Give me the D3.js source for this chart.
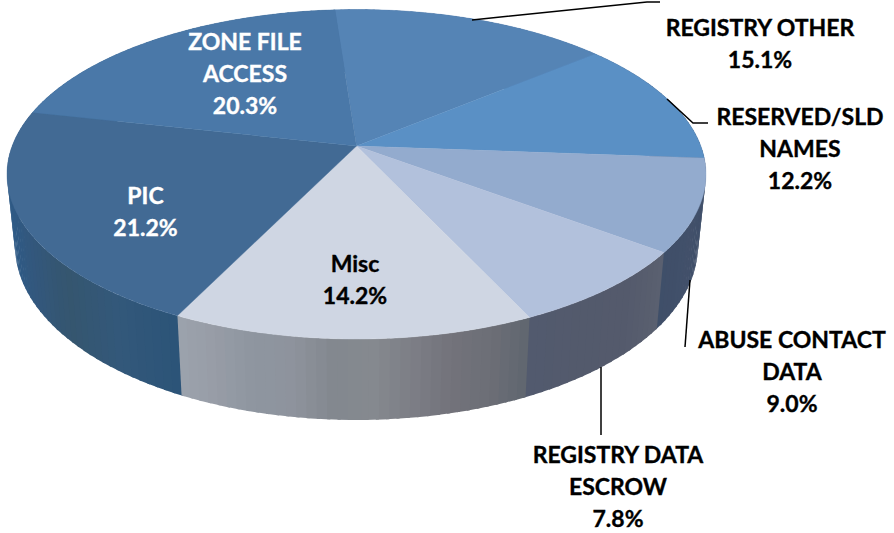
<!DOCTYPE html>
<html>
<head>
<meta charset="utf-8">
<script src="https://cdn.jsdelivr.net/npm/d3@7"></script>
<style>
	html, body { margin: 0; padding: 0; background: #fff; }
	svg { display: block; }
	text { font-family: Lato, sans-serif; font-weight: 700; text-anchor: middle; stroke-width: 0.35; }
</style>
</head>
<body>
<div id="chart"></div>
<script>
// data, clockwise from the top of the pie
categories = ['REGISTRY OTHER', 'RESERVED/SLD NAMES', 'ABUSE CONTACT DATA', 'REGISTRY DATA ESCROW', 'Misc', 'PIC', 'ZONE FILE ACCESS'];
shares = [15.1, 12.2, 9.0, 7.8, 14.2, 21.2, 20.3];

// chart settings
chart_width = 894;
chart_height = 533;
start_angle = -4.2 * Math.PI / 180;
font_size = 23;
line_height = 32;

// colors
top_colors = ['#5584b5', '#5a90c5', '#93abce', '#b2c1dc', '#cfd6e3', '#426a94', '#4a78a8'];
wall_colors = [
	['#4a6f9a', '#4a6f9a'],
	['#44536c', '#44536c'],
	['#44536c', '#3f4f69', '#42506a', '#3f4f69'],
	['#5b6170', '#545a6c', '#535a6c', '#525a6e'],
	['#5f666f', '#6c6e76', '#72727a', '#7c7e85', '#85898f', '#83888f', '#8e939d', '#8e96a0', '#979ca6', '#9ca3ad'],
	['#2c5478', '#33587a', '#35566f', '#33577c', '#2f5a85', '#2f5a85', '#3c5f84', '#3d6185'],
	['#3d6185', '#3d6185']
];

// label lines and where they sit
label_lines = [
	['REGISTRY OTHER', '15.1%'],
	['RESERVED/SLD', 'NAMES', '12.2%'],
	['ABUSE CONTACT', 'DATA', '9.0%'],
	['REGISTRY DATA', 'ESCROW', '7.8%'],
	['Misc', '14.2%'],
	['PIC', '21.2%'],
	['ZONE FILE', 'ACCESS', '20.3%']
];
label_x = [760, 800, 792, 618, 355, 145.5, 245];
label_y = [36, 125, 348, 463, 272, 204, 50];
label_fill = ['#000', '#000', '#000', '#000', '#000', '#fff', '#fff'];
leaders = [
	[[472, 20], [647, 2], [660, 2]],
	[[667, 99], [693, 123], [708, 123]],
	[[690, 280], [685, 347]],
	[[601, 367], [601, 435]]
];

// perspective of the pie disc
apex_x = 356.5;
apex_y = 146;
disc_a = 344.3;
disc_b = 159.9;
disc_k = 0.1715;

function project_top(angle) {
	var u = Math.sin(angle), v = Math.cos(angle), w = 1 + disc_k * v;
	return [apex_x + disc_a * u / w, apex_y - disc_b * v / w];
}

function project_bottom(angle) {
	var p = project_top(angle);
	return [apex_x + 0.977 * (p[0] - apex_x), apex_y - (1.057 * (apex_y - p[1]) - 70)];
}

// layout
var pie = d3.pie()
	.sort(null)
	.startAngle(start_angle)
	.endAngle(start_angle + 2 * Math.PI);

var arcs = pie(shares);
var line = d3.line();
var step = 0.5 * Math.PI / 180;
var strip_step = 1.5 * Math.PI / 180;

// draw elements
var svg = d3.select('#chart')
	.append('svg')
	.attr('width', chart_width)
	.attr('height', chart_height);

// side wall, cut in strips so the color bands show
// strips are painted back to front, each one runs a bit under the next, so no seams
var strips = [];
arcs.forEach((d, i) => {
	var color_scale = d3.scaleLinear()
		.domain(d3.range(wall_colors[i].length).map((j) => j / Math.max(1, wall_colors[i].length - 1)))
		.range(wall_colors[i]);
	var n = Math.ceil((d.endAngle - d.startAngle) / strip_step);
	for (var s = 0; s < n; s++) {
		var a0 = d.startAngle + (d.endAngle - d.startAngle) * s / n;
		var a1 = d.startAngle + (d.endAngle - d.startAngle) * (s + 1) / n;
		strips.push({ a0: a0, a1: a1, color: color_scale((s + 0.5) / n) });
	}
});
strips.sort((a, b) => Math.cos((b.a0 + b.a1) / 2) - Math.cos((a.a0 + a.a1) / 2));

svg.append('g')
	.selectAll('path')
	.data(strips)
	.enter()
	.append('path')
	.attr('d', (d) => {
		var right_side = Math.sin((d.a0 + d.a1) / 2) > 0;
		var back = right_side ? d.a0 : d.a1;
		var front = right_side ? d.a1 + 0.3 * strip_step : d.a0 - 0.3 * strip_step;
		return line([project_top(back), project_top(front), project_bottom(front), project_bottom(back)]) + 'Z';
	})
	.attr('fill', (d) => d.color);

// top of the pie
svg.append('g')
	.selectAll('path')
	.data(arcs)
	.enter()
	.append('path')
	.attr('d', (d) => {
		var n = Math.ceil((d.endAngle - d.startAngle) / step);
		var points = d3.range(n + 1).map((s) => project_top(d.startAngle + (d.endAngle - d.startAngle) * s / n));
		return line([[apex_x, apex_y]].concat(points)) + 'Z';
	})
	.attr('fill', (d, i) => top_colors[i])
	.attr('stroke', (d, i) => top_colors[i])
	.attr('stroke-width', 0.4);

// leader lines
svg.append('g')
	.selectAll('path')
	.data(leaders)
	.enter()
	.append('path')
	.attr('d', (d) => line(d))
	.attr('fill', 'none')
	.attr('stroke', '#000')
	.attr('stroke-width', 1.5);

// labels
var labels = svg.append('g')
	.selectAll('text')
	.data(categories)
	.enter()
	.append('text')
	.attr('font-size', font_size)
	.attr('fill', (d, i) => label_fill[i])
	.attr('stroke', (d, i) => label_fill[i]);

labels.selectAll('tspan')
	.data((d, i) => label_lines[i].map((t, j) => ({ t: t, x: label_x[i], y: label_y[i] + j * line_height })))
	.enter()
	.append('tspan')
	.attr('x', (d) => d.x)
	.attr('y', (d) => d.y)
	.text((d) => d.t);
</script>
</body>
</html>
